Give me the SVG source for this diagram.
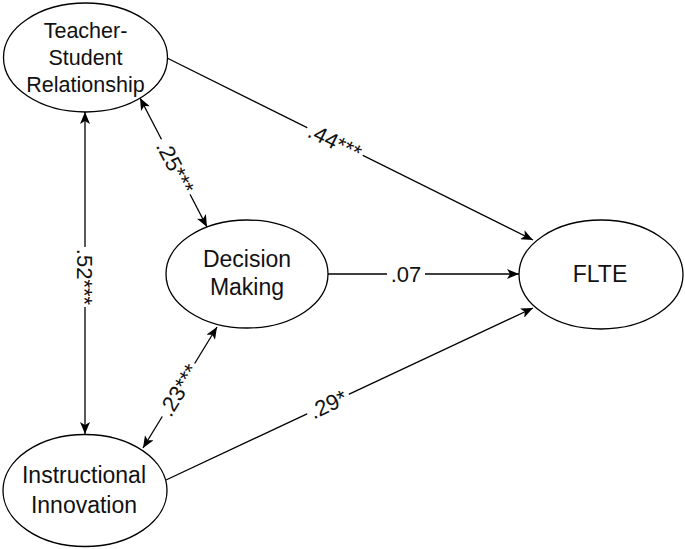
<svg xmlns="http://www.w3.org/2000/svg" width="685" height="549" viewBox="0 0 685 549">
  <style>
    .node ellipse { fill: #ffffff; stroke: #000000; stroke-width: 1.3; }
    .node text { font-family: "Liberation Sans", Arial, sans-serif; font-size: 23px; fill: #111111; text-anchor: middle; }
    #tsr text { font-size: 21.5px; }
    .edge { stroke: #000000; stroke-width: 1.3; fill: none; }
    .lbl text { font-family: "Liberation Sans", Arial, sans-serif; font-size: 22px; fill: #111111; text-anchor: middle; }
    .lbl rect { fill: #ffffff; }
  </style>
  <defs>
    <marker id="arr" viewBox="0 0 12 10" refX="12" refY="5" markerWidth="12" markerHeight="10" markerUnits="userSpaceOnUse" orient="auto-start-reverse">
      <path d="M0,0 L12,5 L0,10 L3,5 z" fill="#000000"/>
    </marker>
  </defs>

  <g id="connectors">
    <line class="edge" x1="167" y1="58" x2="533" y2="240" marker-end="url(#arr)"/>
    <line class="edge" x1="328" y1="274" x2="519" y2="274" marker-end="url(#arr)"/>
    <line class="edge" x1="166" y1="480" x2="533" y2="308" marker-end="url(#arr)"/>
    <line class="edge" x1="85" y1="112" x2="85" y2="434" marker-start="url(#arr)" marker-end="url(#arr)"/>
    <line class="edge" x1="140" y1="98" x2="207" y2="227" marker-start="url(#arr)" marker-end="url(#arr)"/>
    <line class="edge" x1="217" y1="327" x2="143" y2="448" marker-start="url(#arr)" marker-end="url(#arr)"/>

    <g class="lbl" transform="translate(335,141.5) rotate(26.44)">
      <rect x="-31" y="-10" width="62" height="20"/>
      <text x="0" y="8">.44***</text>
    </g>
    <g class="lbl" transform="translate(406,274)">
      <rect x="-19" y="-10" width="38" height="20"/>
      <text x="0" y="8">.07</text>
    </g>
    <g class="lbl" transform="translate(328,404) rotate(-25.1)">
      <rect x="-23" y="-10" width="46" height="20"/>
      <text x="0" y="8">.29*</text>
    </g>
    <g class="lbl" transform="translate(85,277) rotate(90)">
      <rect x="-30" y="-10" width="60" height="20"/>
      <text x="0" y="8">.52***</text>
    </g>
    <g class="lbl" transform="translate(175.5,167) rotate(62.6)">
      <rect x="-31" y="-10" width="62" height="20"/>
      <text x="0" y="8">.25***</text>
    </g>
    <g class="lbl" transform="translate(178.5,390) rotate(-58.55)">
      <rect x="-31" y="-10" width="62" height="20"/>
      <text x="0" y="8">.23***</text>
    </g>
  </g>

  <g id="tsr" class="node">
    <ellipse cx="85.5" cy="57.5" rx="82" ry="54.5"/>
    <text x="85.5" y="38">Teacher-</text>
    <text x="85.5" y="65">Student</text>
    <text x="85.5" y="92">Relationship</text>
  </g>
  <g id="dm" class="node">
    <ellipse cx="247" cy="274" rx="81" ry="54"/>
    <text x="247" y="267">Decision</text>
    <text x="247" y="295">Making</text>
  </g>
  <g id="flte" class="node">
    <ellipse cx="601" cy="274.5" rx="82" ry="54.5"/>
    <text x="600" y="282">FLTE</text>
  </g>
  <g id="ii" class="node">
    <ellipse cx="85" cy="490.5" rx="82" ry="56"/>
    <text x="84" y="483">Instructional</text>
    <text x="84" y="513">Innovation</text>
  </g>
</svg>
